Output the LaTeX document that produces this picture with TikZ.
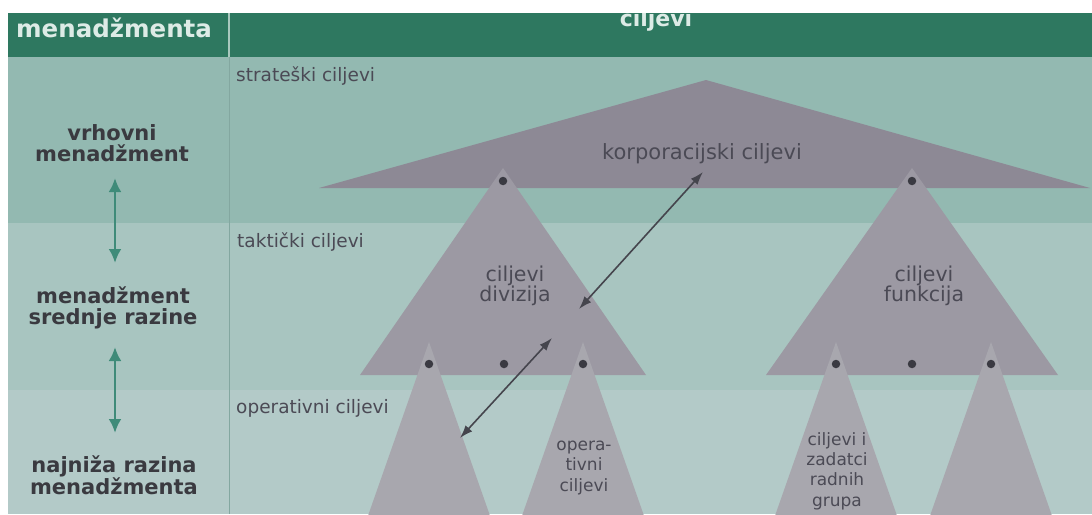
\documentclass[tikz,border=0pt]{standalone}
\usepackage{fontspec}
\setmainfont{DejaVu Sans}
\usetikzlibrary{arrows.meta}
\definecolor{hdr}{HTML}{2E7860}
\definecolor{hdrtxt}{HTML}{DDEBE6}
\definecolor{rowA}{HTML}{93B9B1}
\definecolor{rowB}{HTML}{A8C5C0}
\definecolor{rowC}{HTML}{B3CAC8}
\definecolor{divline}{HTML}{83A7A0}
\definecolor{bigtri}{HTML}{8D8995}
\definecolor{midtri}{HTML}{9C99A3}
\definecolor{lowtri}{HTML}{A8A7AE}
\definecolor{dotc}{HTML}{3A3A42}
\definecolor{txtg}{HTML}{4B4A55}
\definecolor{lvlg}{HTML}{3A3A40}
\definecolor{tealarr}{HTML}{3F8B79}
\definecolor{darkarr}{HTML}{45454D}
\begin{document}
\begin{tikzpicture}[x=1pt,y=-1pt,
  lbl/.style={font=\fontsize{20.5}{20}\selectfont, text=txtg, inner sep=0pt, align=center},
  smlbl/.style={font=\fontsize{17}{20.3}\selectfont, text=txtg, inner sep=0pt, align=center},
  rowlbl/.style={font=\fontsize{18.5}{20}\selectfont, text=txtg, inner sep=0pt, anchor=west},
  lvl/.style={font=\bfseries\fontsize{21}{21.5}\selectfont, text=lvlg, inner sep=0pt, align=center},
  hdrlbl/.style={font=\bfseries\fontsize{24.5}{26}\selectfont, text=hdrtxt, inner sep=0pt},
  dotn/.style={circle, fill=dotc, minimum size=8.5pt, inner sep=0pt},
  tealud/.style={{Latex[length=14pt,width=13pt]}-{Latex[length=14pt,width=13pt]}, line width=2.8pt, draw=tealarr},
  darkud/.style={{Latex[length=13pt,width=9pt]}-{Latex[length=13pt,width=9pt]}, line width=1.6pt, draw=darkarr}]
\useasboundingbox (0,0) rectangle (1092,514);
\fill[white] (0,0) rectangle (1092,514);
% rows
\fill[rowA] (8,57) rectangle (1092,223);
\fill[rowB] (8,223) rectangle (1092,390);
\fill[rowC] (8,390) rectangle (1092,514);
% header
\fill[hdr] (8,13) rectangle (1092,57);
\draw[hdrtxt!70!hdr, line width=1.5pt] (229,13) -- (229,57);
\draw[divline, line width=0.8pt] (229,57) -- (229,514);
\begin{scope}
\clip (8,13) rectangle (1092,57);
\node[hdrlbl, anchor=base west] (hm) at (16,37) {menadžmenta};
\node[hdrlbl, font=\bfseries\fontsize{22}{24}\selectfont, anchor=base] (hc) at (656,26) {ciljevi};
\end{scope}
% row labels
\node[rowlbl] (rs) at (236,76) {strateški ciljevi};
\node[rowlbl] (rt) at (237,242) {taktički ciljevi};
\node[rowlbl] (ro) at (236,408) {operativni ciljevi};
% level labels
\node[lvl] (l1) at (112,143) {vrhovni\\menadžment};
\node[lvl] (l2) at (113,308) {menadžment\\srednje razine};
\node[lvl] (l3) at (114,475) {najniža razina\\menadžmenta};
\coordinate (a1t) at (115,178); \coordinate (a1b) at (115,263);
\coordinate (a2t) at (115,347); \coordinate (a2b) at (115,433);
\draw[tealud] (a1t) -- (a1b);
\draw[tealud] (a2t) -- (a2b);
% triangles
\begin{scope}
\clip (8,57) rectangle (1092,514);
\fill[bigtri] (706,80) -- (1090,188) -- (319,188) -- cycle;
\fill[midtri] (503,168) -- (646,375) -- (360,375) -- cycle;
\fill[midtri] (912,168) -- (1058,375) -- (766,375) -- cycle;
\fill[lowtri] (429,342) -- (495,530) -- (363,530) -- cycle;
\fill[lowtri] (583,342) -- (649,530) -- (517,530) -- cycle;
\fill[lowtri] (836,342) -- (902,530) -- (770,530) -- cycle;
\fill[lowtri] (991,342) -- (1057,530) -- (925,530) -- cycle;
\end{scope}
% dots
\node[dotn] (d0) at (503,181) {};
\node[dotn] (d1) at (912,181) {};
\node[dotn] (d2) at (429,364) {};
\node[dotn] (d3) at (504,364) {};
\node[dotn] (d4) at (583,364) {};
\node[dotn] (d5) at (836,364) {};
\node[dotn] (d6) at (912,364) {};
\node[dotn] (d7) at (991,364) {};
% triangle labels
\node[lbl, font=\fontsize{21}{20}\selectfont] (korp) at (702,154) {korporacijski ciljevi};
\node[lbl] (div) at (515,286) {ciljevi\\divizija};
\node[lbl] (fun) at (924,286) {ciljevi\\funkcija};
\node[smlbl] (opc) at (584,468) {opera-\\tivni\\ciljevi};
\node[smlbl] (grp) at (837,471) {ciljevi i\\zadatci\\radnih\\grupa};
% diagonal arrows
\coordinate (x1a) at (579,309); \coordinate (x1b) at (703,172);
\coordinate (x2a) at (460,438); \coordinate (x2b) at (552,338);
\draw[darkud] (x1a) -- (x1b);
\draw[darkud] (x2a) -- (x2b);
\end{tikzpicture}
\end{document}
